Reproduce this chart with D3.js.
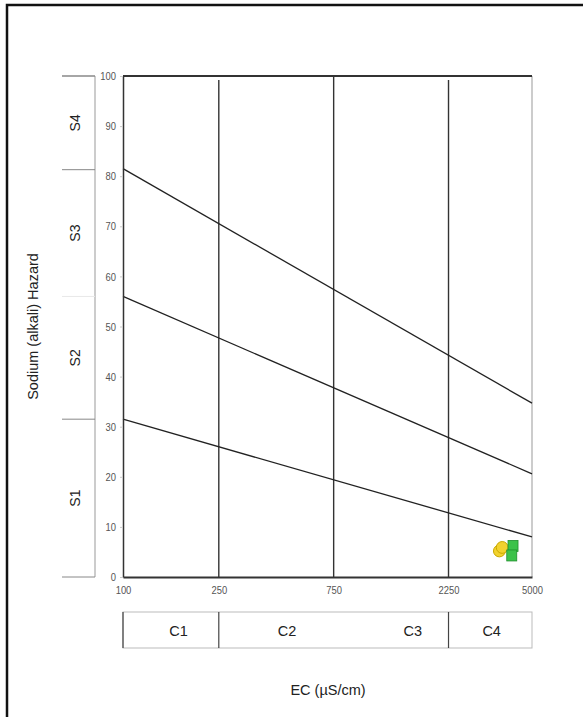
<!DOCTYPE html>
<html>
<head>
<meta charset="utf-8">
<script src="https://cdn.jsdelivr.net/npm/d3@7"></script>
<style>
  body { margin: 0; background: #fff; }
  text { font-family: "Liberation Sans", Arial, sans-serif; }
</style>
</head>
<body>
<div class="container"></div>
<script>
// EC class breaks and tick labels
const ecTicks = [100, 250, 750, 2250, 5000];
const ecBreaks = [250, 750, 2250];
const cClasses = ["C1", "C2", "C3", "C4"];
const cLabelAt = [170, 480, 1600, 3400];
const cBoxBreaks = [250, 2250];

// sodium hazard ticks and classes
const sarTicks = [0, 10, 20, 30, 40, 50, 60, 70, 80, 90, 100];
const sClasses = ["S1", "S2", "S3", "S4"];
const sBounds = [0, 31.5, 56, 81.3, 100];

// class boundary lines: value at EC=100 and at EC=5000
const lineStart = [31.5, 56, 81.5];
const lineEnd = [8, 20.6, 34.7];

// samples
const yellowEC = [3660, 3760];
const yellowSAR = [5.2, 5.9];
const greenEC = [4170, 4120];
const greenSAR = [6.2, 4.3];

const width = 583;
const height = 717;
const margin = { top: 76, right: 51, bottom: 140, left: 123 };

const svg = d3.select(".container").append("svg")
  .attr("width", width)
  .attr("height", height);

// outer frame (top + left)
svg.append("path")
  .attr("d", `M7,${height} V5 H${width}`)
  .attr("fill", "none")
  .attr("stroke", "#111")
  .attr("stroke-width", 2.5);

const x = d3.scaleLog()
  .domain([100, 5000])
  .range([margin.left, width - margin.right]);

const y = d3.scaleLinear()
  .domain([0, 100])
  .range([height - margin.bottom, margin.top]);

const x0 = x(100), x1 = x(5000), y0 = y(0), y1 = y(100);

// right border (light)
svg.append("line")
  .attr("x1", x1).attr("x2", x1).attr("y1", y1).attr("y2", y0)
  .attr("stroke", "#aaa").attr("stroke-width", 1.2);

// vertical class breaks
svg.append("g")
  .selectAll("line")
  .data(ecBreaks)
  .join("line")
  .attr("x1", d => x(d)).attr("x2", d => x(d))
  .attr("y1", (d, i) => i === 1 ? y1 : y1 + 4)
  .attr("y2", y0)
  .attr("stroke", "#333")
  .attr("stroke-width", 1.4);

// top line
svg.append("line")
  .attr("x1", x0).attr("x2", x1).attr("y1", y1).attr("y2", y1)
  .attr("stroke", "#333").attr("stroke-width", 2);

// diagonal lines
const diag = d3.line().x(d => x(d[0])).y(d => y(d[1]));
svg.append("g")
  .selectAll("path")
  .data(lineStart.map((s, i) => [[100, s], [5000, lineEnd[i]]]))
  .join("path")
  .attr("d", diag)
  .attr("fill", "none")
  .attr("stroke", "#222")
  .attr("stroke-width", 1.3);

// y axis
svg.append("g")
  .attr("transform", `translate(${x0},0)`)
  .call(d3.axisLeft(y).tickValues(sarTicks).tickSize(3).tickPadding(3).tickSizeOuter(0))
  .call(g => g.select(".domain").attr("stroke", "#333").attr("stroke-width", 1.5))
  .call(g => g.selectAll(".tick line").attr("stroke", "#ccc"))
  .call(g => g.selectAll("text").attr("fill", "#555").attr("font-size", 11.5)
    .attr("transform", "scale(0.82,1)").attr("x", -7 / 0.82));

// x axis
svg.append("g")
  .attr("transform", `translate(0,${y0})`)
  .call(d3.axisBottom(x).tickValues(ecTicks).tickFormat(d3.format("d")).tickSize(0).tickPadding(9).tickSizeOuter(0))
  .call(g => g.select(".domain").attr("stroke", "#333").attr("stroke-width", 2))
  .call(g => g.selectAll(".tick text").attr("fill", "#555").attr("font-size", 11.5)
    .attr("transform", "scale(0.82,1)"));

// S class bracket
const bx0 = 62, bx1 = 95;
svg.append("line")
  .attr("x1", bx1).attr("x2", bx1).attr("y1", y1).attr("y2", y0)
  .attr("stroke", "#999").attr("stroke-width", 1);
svg.append("g")
  .selectAll("line")
  .data(sBounds)
  .join("line")
  .attr("x1", bx0).attr("x2", bx1)
  .attr("y1", d => y(d)).attr("y2", d => y(d))
  .attr("stroke", d => d === 56 ? "#e8e8e8" : "#888")
  .attr("stroke-width", d => d === 100 ? 1.5 : 1);
svg.append("g")
  .selectAll("text")
  .data(sClasses)
  .join("text")
  .attr("transform", (d, i) => `translate(80,${y((sBounds[i] + sBounds[i + 1]) / 2)}) rotate(-90)`)
  .attr("text-anchor", "middle")
  .attr("font-size", 14)
  .attr("fill", "#222")
  .text(d => d);

// C class box
const cy0 = 612, cy1 = 648;
svg.append("rect")
  .attr("x", x0).attr("y", cy0)
  .attr("width", x1 - x0).attr("height", cy1 - cy0)
  .attr("fill", "none").attr("stroke", "#bbb");
svg.append("g")
  .selectAll("line")
  .data([100, ...cBoxBreaks])
  .join("line")
  .attr("x1", d => x(d)).attr("x2", d => x(d))
  .attr("y1", cy0).attr("y2", cy1)
  .attr("stroke", "#444").attr("stroke-width", 1.2);
svg.append("g")
  .selectAll("text")
  .data(cClasses)
  .join("text")
  .attr("x", (d, i) => x(cLabelAt[i]))
  .attr("y", 636)
  .attr("text-anchor", "middle")
  .attr("font-size", 14.5)
  .attr("fill", "#222")
  .text(d => d);

// titles
svg.append("text")
  .attr("x", 328).attr("y", 695)
  .attr("text-anchor", "middle")
  .attr("font-size", 14.5)
  .attr("fill", "#222")
  .text("EC (µS/cm)");
svg.append("text")
  .attr("transform", `translate(38,${(y0 + y1) / 2}) rotate(-90)`)
  .attr("text-anchor", "middle")
  .attr("font-size", 14.5)
  .attr("fill", "#222")
  .text("Sodium (alkali) Hazard");

// samples
const hex = d3.symbol().type(d3.symbolCircle).size(110);
svg.append("g")
  .selectAll("path")
  .data(yellowEC.map((e, i) => [e, yellowSAR[i]]))
  .join("path")
  .attr("transform", d => `translate(${x(d[0])},${y(d[1])})`)
  .attr("d", hex)
  .attr("fill", "#f2d22e")
  .attr("stroke", "#c9a800")
  .attr("stroke-width", 1);
svg.append("g")
  .selectAll("rect")
  .data(greenEC.map((e, i) => [e, greenSAR[i]]))
  .join("rect")
  .attr("x", d => x(d[0]) - 5)
  .attr("y", d => y(d[1]) - 5.5)
  .attr("width", 10).attr("height", 11)
  .attr("fill", "#3cc24a")
  .attr("stroke", "#1f8f2c")
  .attr("stroke-width", 0.8);
</script>
</body>
</html>
